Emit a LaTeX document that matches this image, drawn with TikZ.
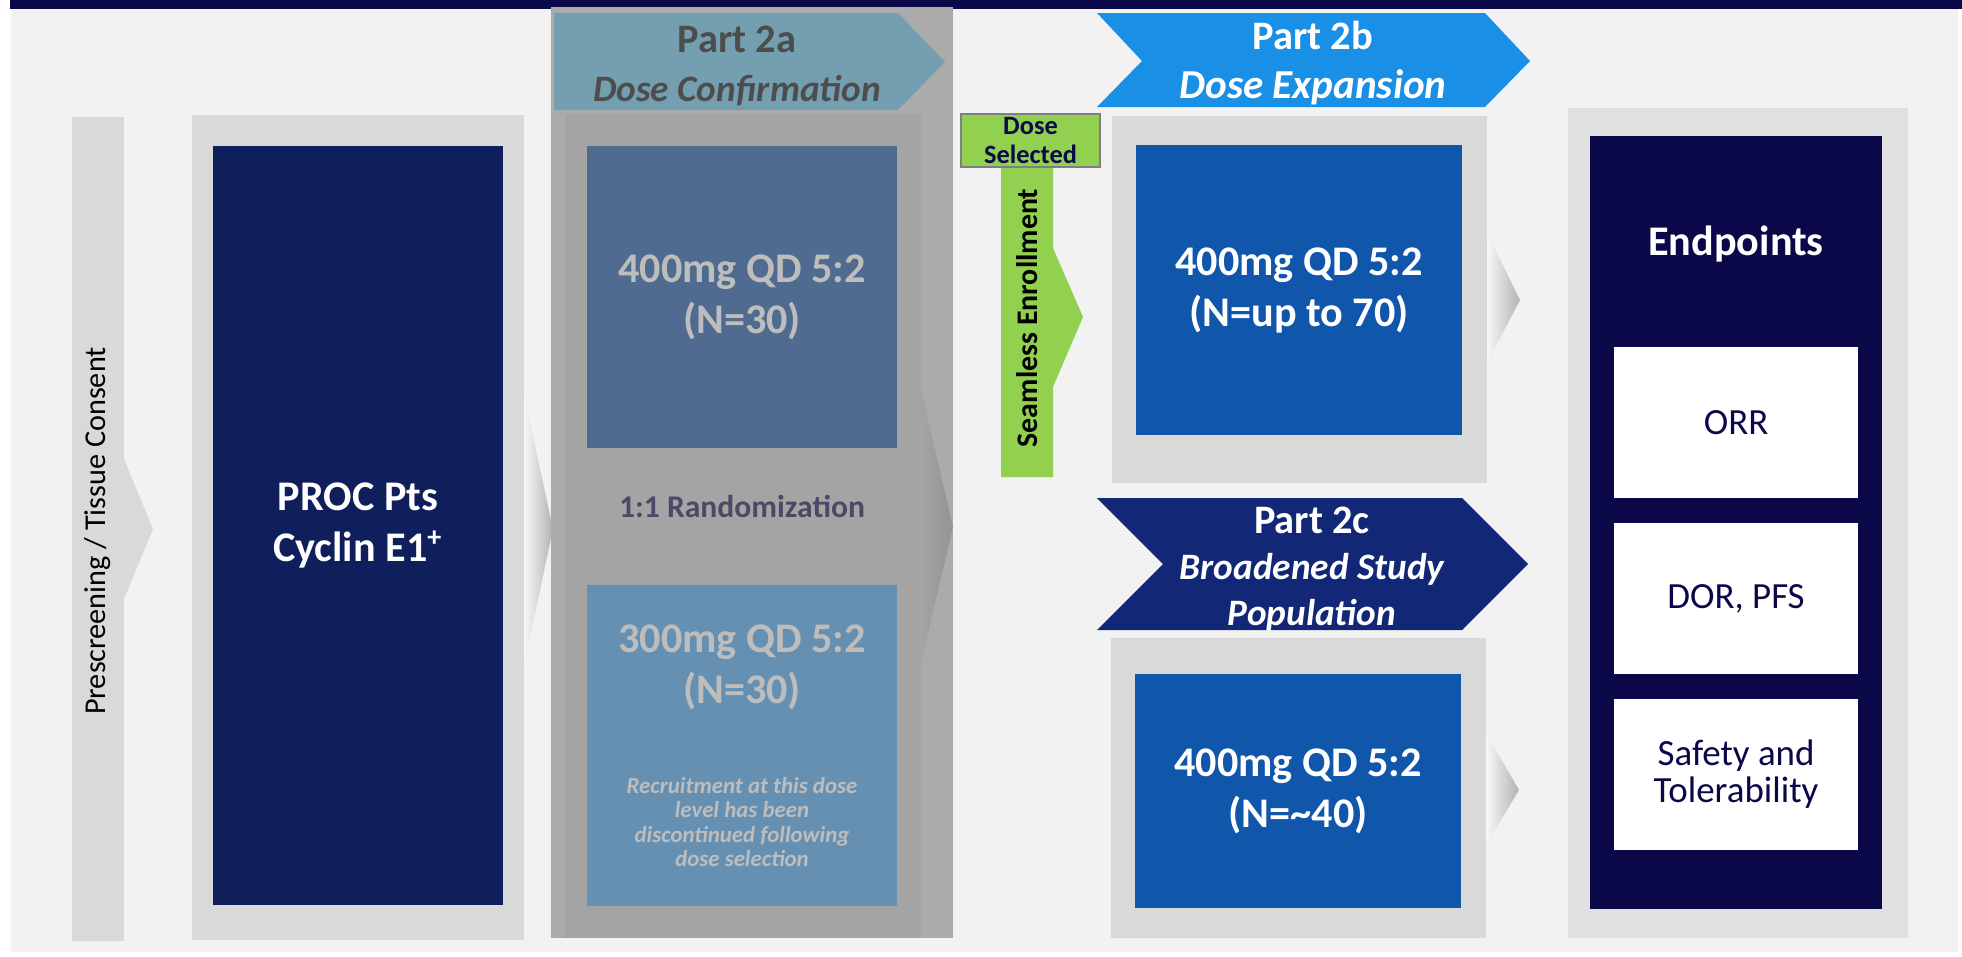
\documentclass[tikz,border=0pt]{standalone}
\usepackage{fontspec}
\setmainfont{Carlito}
\usetikzlibrary{positioning}

\definecolor{topnavy}{HTML}{0A0A4B}
\definecolor{canvas}{HTML}{F2F2F2}
\definecolor{panel}{HTML}{D9D9D9}
\definecolor{panelend}{HTML}{E0E0E0}
\definecolor{confouter}{HTML}{ABABAB}
\definecolor{confinner}{HTML}{A4A4A4}
\definecolor{confhead}{HTML}{739FB0}
\definecolor{headgray}{HTML}{4D4D4D}
\definecolor{armhigh}{HTML}{4F6C90}
\definecolor{armlow}{HTML}{6690B1}
\definecolor{armtext}{HTML}{BDBDBD}
\definecolor{randtext}{HTML}{4A4A68}
\definecolor{seamgreen}{HTML}{92D050}
\definecolor{linegray}{HTML}{7F7F7F}
\definecolor{expblue}{HTML}{1A8FE6}
\definecolor{popnavy}{HTML}{132777}
\definecolor{doseblue}{HTML}{1056AB}
\definecolor{procnavy}{HTML}{0F1F5B}
\definecolor{endnavy}{HTML}{0B0849}

\newcommand{\subhead}[2]{{\fontsize{#1}{14}\selectfont\itshape #2}}

\tikzset{
  block/.style={anchor=north west, inner sep=0pt, outer sep=0pt},
  dosetext/.style={text=white, align=center, font=\bfseries\fontsize{12}{14.5}\selectfont},
  headtext/.style={text=white, align=center, font=\bfseries\fontsize{11.5}{14}\selectfont},
  outcome/.style={block, fill=white, minimum width=2.44cm, minimum height=1.51cm,
    text=endnavy, align=center, font=\fontsize{10.5}{10.5}\selectfont},
  fade/.style={left color=white!80!panel, right color=black!30},
}

\begin{document}
\begin{tikzpicture}[x=0.01cm, y=-0.01cm]
  \useasboundingbox (0,0) rectangle (1962,957);
  \fill[white] (0,0) rectangle (1962,957);
  \fill[canvas] (11,9) rectangle (1958,952);
  \fill[topnavy] (10,0) rectangle (1962,9);

  % prescreening strip
  \fill[panel] (72,117) -- (124,117) -- (124,459) -- (153,529) -- (124,599)
    -- (124,941) -- (72,941) -- cycle;
  \node[rotate=90, anchor=base, font=\fontsize{8.6}{11}\selectfont] (consent) at (106,531)
    {Prescreening / Tissue Consent};

  % patient population
  \fill[panel] (192,115) rectangle (524,940);
  \node[block, fill=procnavy, minimum width=2.90cm, minimum height=7.59cm, dosetext] (proc)
    at (213,146) {PROC Pts\\Cyclin E1\textsuperscript{+}};
  \shade[fade] (524,395) -- (553,529) -- (524,665) -- cycle;

  % part 2a
  \fill[confouter] (551,7) rectangle (953,938);
  \fill[confinner] (565,114) rectangle (921,938);
  \shade[left color=confinner, right color=black!42] (921,390) -- (953,527) -- (921,663) -- cycle;
  \fill[confhead] (554,13) -- (898,13) -- (945,62) -- (898,110) -- (554,110) -- cycle;
  \node[headtext, text=headgray] (head2a) at (737,66) {Part 2a\\\subhead{10.6}{Dose Confirmation}};

  \node[block, fill=armhigh, minimum width=3.10cm, minimum height=3.02cm, dosetext, text=armtext]
    (conf400) at (587,146) {400mg QD 5:2\\(N=30)};
  \node[anchor=base, text=randtext, font=\bfseries\fontsize{9}{11}\selectfont] (randomize)
    at (742,517) {1:1 Randomization};
  \node[block, fill=armlow, minimum width=3.10cm, minimum height=3.21cm] (conf300) at (587,585) {};
  \node[dosetext, text=armtext] (dose300) at (742,667) {300mg QD 5:2\\(N=30)};
  \node[align=center, text=armtext, font=\bfseries\itshape\fontsize{6.5}{7}\selectfont] (note300)
    at (742,822) {Recruitment at this dose\\level has been\\discontinued following\\dose selection};

  % seamless enrollment
  \fill[seamgreen] (1001,167) -- (1053,167) -- (1053,248) -- (1083,317) -- (1053,387)
    -- (1053,477) -- (1001,477) -- cycle;
  \node[rotate=90, anchor=base, font=\bfseries\fontsize{8.5}{10}\selectfont] (seamless)
    at (1037,318) {Seamless Enrollment};
  \node[block, fill=seamgreen, draw=linegray, line width=0.6pt, minimum width=1.39cm,
    minimum height=0.53cm, align=center, text=topnavy, font=\bfseries\fontsize{7.5}{8}\selectfont]
    (selected) at (961,114) {Dose\\Selected};

  % part 2b
  \fill[expblue] (1097,13) -- (1485,13) -- (1530,61) -- (1485,107) -- (1097,107) -- (1142,61) -- cycle;
  \node[headtext] (head2b) at (1313,63) {Part 2b\\\subhead{11.7}{Dose Expansion}};
  \fill[panel] (1112,116) rectangle (1487,483);
  \node[block, fill=doseblue, minimum width=3.26cm, minimum height=2.90cm, dosetext] (exp400)
    at (1136,145) {400mg QD 5:2\\(N=up to 70)};
  \shade[fade] (1487,233) -- (1520,300) -- (1487,363) -- cycle;

  % part 2c
  \fill[popnavy] (1097,498) -- (1462,498) -- (1528,564) -- (1462,630) -- (1097,630) -- (1163,564) -- cycle;
  \node[headtext, font=\bfseries\fontsize{11.5}{13}\selectfont] (head2c) at (1312,569)
    {Part 2c\\\subhead{10.6}{Broadened Study}\\\subhead{10.6}{Population}};
  \fill[panel] (1111,638) rectangle (1486,938);
  \node[block, fill=doseblue, minimum width=3.26cm, minimum height=2.34cm, dosetext] (pop400)
    at (1135,674) {400mg QD 5:2\\(N=\textasciitilde40)};
  \shade[fade] (1486,733) -- (1519,790) -- (1486,845) -- cycle;

  % endpoints
  \fill[panelend] (1568,108) rectangle (1908,938);
  \node[block, fill=endnavy, minimum width=2.92cm, minimum height=7.73cm] (endbox) at (1590,136) {};
  \node[anchor=base, text=white, font=\bfseries\fontsize{12}{14}\selectfont] (endpoints)
    at (1736,255) {Endpoints};
  \node[outcome] (orr) at (1614,347) {ORR};
  \node[outcome] (dorpfs) at (1614,523) {DOR, PFS};
  \node[outcome] (safety) at (1614,699) {Safety and\\Tolerability};
\end{tikzpicture}
\end{document}
